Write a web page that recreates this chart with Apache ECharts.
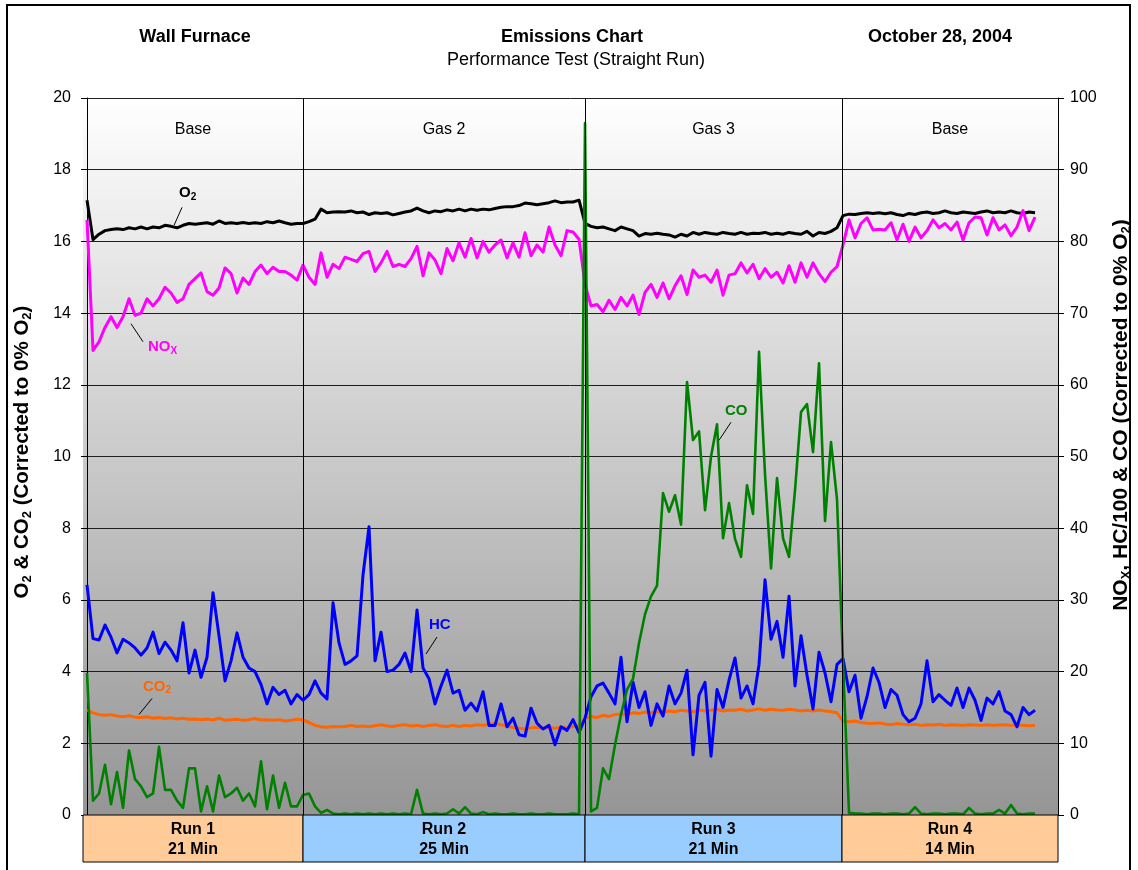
<!DOCTYPE html>
<html>
<head>
<meta charset="utf-8">
<script src="https://cdn.jsdelivr.net/npm/echarts@6/dist/echarts.min.js"></script>
<style>
  html, body { margin: 0; padding: 0; background: #ffffff; }
  #chart { width: 1138px; height: 870px; }
</style>
</head>
<body>
<div id="chart"></div>
<script>
// ---- Test runs ----
const runNames   = ['Run 1', 'Run 2', 'Run 3', 'Run 4'];
const runMinutes = [21, 25, 21, 14];
const phaseNames = ['Base', 'Gas 2', 'Gas 3', 'Base'];
// scan numbers where the axis starts, each run changes over, and the axis ends
const runBounds  = [-0.67, 36, 83, 125.83, 161.83];

// ---- Tick labels ----
const leftTicks  = [0, 2, 4, 6, 8, 10, 12, 14, 16, 18, 20];
const rightTicks = [0, 10, 20, 30, 40, 50, 60, 70, 80, 90, 100];

// ---- Readings, one per scan (left axis: O2, CO2 in %) ----
const o2 = [
  17.15, 16.05, 16.2, 16.3, 16.33, 16.35, 16.33, 16.38, 16.35, 16.4,
  16.35, 16.4, 16.38, 16.45, 16.42, 16.38, 16.45, 16.5, 16.48, 16.5,
  16.52, 16.48, 16.57, 16.5, 16.52, 16.5, 16.53, 16.5, 16.52, 16.5,
  16.55, 16.52, 16.57, 16.52, 16.48, 16.5,
  16.5, 16.55, 16.62, 16.9, 16.8, 16.82, 16.83, 16.82, 16.85, 16.8,
  16.82, 16.75, 16.8, 16.78, 16.8, 16.74, 16.78, 16.82, 16.85, 16.93,
  16.85, 16.8, 16.85, 16.83, 16.88, 16.85, 16.9, 16.85, 16.9, 16.87,
  16.9, 16.88, 16.92, 16.95, 16.97, 16.97, 17.0, 17.07, 17.05, 17.02,
  17.05, 17.08, 17.13, 17.08, 17.1, 17.1, 17.15,
  16.5, 16.42, 16.38, 16.4, 16.35, 16.3, 16.4, 16.35, 16.3, 16.15,
  16.22, 16.2, 16.23, 16.2, 16.18, 16.12, 16.2, 16.15, 16.25, 16.2,
  16.25, 16.22, 16.2, 16.25, 16.22, 16.2, 16.25, 16.2, 16.23, 16.22,
  16.25, 16.2, 16.23, 16.2, 16.25, 16.22, 16.2, 16.28, 16.15, 16.25,
  16.22, 16.28, 16.38,
  16.72, 16.76, 16.75, 16.78, 16.8, 16.78, 16.8, 16.77, 16.8, 16.75,
  16.72, 16.78, 16.75, 16.8, 16.82, 16.78, 16.8, 16.85, 16.8, 16.78,
  16.82, 16.8, 16.78, 16.82, 16.85, 16.8, 16.82, 16.8, 16.85, 16.8,
  16.78, 16.82, 16.8
];
const co2 = [
  2.93, 2.85, 2.8, 2.78, 2.8, 2.76, 2.74, 2.77, 2.73, 2.72,
  2.74, 2.7, 2.72, 2.69, 2.71, 2.68, 2.7, 2.67, 2.68, 2.66,
  2.68, 2.65, 2.7, 2.64, 2.66, 2.67, 2.64, 2.66, 2.69, 2.65,
  2.66, 2.64, 2.66, 2.62, 2.64, 2.67,
  2.65, 2.58, 2.5, 2.46, 2.45, 2.47, 2.46, 2.47, 2.5, 2.47,
  2.48, 2.46, 2.49, 2.52, 2.48, 2.47, 2.5, 2.52, 2.48, 2.5,
  2.47, 2.5, 2.52, 2.48, 2.47, 2.5, 2.47, 2.5, 2.48, 2.52,
  2.5, 2.53, 2.55, 2.52, 2.48, 2.44, 2.42, 2.4, 2.43, 2.45,
  2.42, 2.44, 2.42, 2.45, 2.43, 2.47, 2.5,
  2.7, 2.75, 2.72, 2.78, 2.75, 2.8, 2.82, 2.8, 2.85, 2.83,
  2.87, 2.85, 2.88, 2.86, 2.9, 2.88, 2.92, 2.9, 2.88, 2.93,
  2.9, 2.92, 2.95, 2.9, 2.93, 2.92, 2.95, 2.9, 2.93, 2.96,
  2.92, 2.95, 2.93, 2.92, 2.95, 2.93, 2.9, 2.92, 2.9, 2.93,
  2.9, 2.88, 2.85,
  2.62, 2.6, 2.62, 2.58, 2.56, 2.55, 2.57, 2.54, 2.52, 2.55,
  2.53, 2.52, 2.53, 2.5, 2.52, 2.51, 2.53, 2.5, 2.52, 2.51,
  2.5, 2.52, 2.51, 2.5, 2.52, 2.5, 2.51, 2.52, 2.5, 2.51,
  2.5, 2.49, 2.5
];

// ---- Readings, one per scan (right axis: NOx ppm, HC ppm / 100, CO ppm) ----
const nox = [
  83, 64.8, 66, 68, 69.5, 68, 69.5, 72, 69.7, 70,
  72, 71, 72, 73.6, 72.8, 71.5, 72, 74, 74.8, 75.6,
  73, 72.5, 73.5, 76.3, 75.5, 72.8, 74.9, 74, 75.8, 76.7,
  75.5, 76.4, 75.8, 75.8, 75.3, 74.6,
  76.7, 75, 74, 78.4, 75, 76.8, 76.2, 77.8, 77.5, 77.2,
  78.3, 78.6, 75.8, 77, 78.6, 76.5, 76.8, 76.5, 77.6, 79.3,
  75.2, 78.4, 77.4, 75.5, 79, 77.3, 79.8, 77.8, 80.4, 77.7,
  80, 78.5, 79.5, 80.2, 77.7, 79.8, 77.8, 81.2, 78, 79.5,
  78.5, 82, 79.5, 78, 81.5, 81.3, 80.3,
  74, 71, 71.2, 70.2, 71.8, 70.5, 72.2, 71, 72.5, 69.8,
  72.9, 74, 72.2, 74.2, 72, 73.8, 75.2, 72.6, 76, 75,
  75.3, 74.3, 76, 72.5, 75.3, 75.5, 77, 75.6, 76.8, 74.8,
  76.2, 75, 75.7, 74.2, 76.6, 74.3, 77, 75, 77, 75.5,
  74.4, 75.7, 76.5,
  79.5, 83, 80.5, 82.5, 83.3, 81.6, 81.7, 81.6, 82.6, 80.2,
  82.4, 80, 82, 80.5, 81.5, 83, 81.9, 82.5, 81.6, 82.7,
  80.2, 82.6, 83.4, 83.3, 80.9, 83.3, 81.6, 82.3, 80.8, 82,
  84.3, 81.5, 83.4
];
const hc = [
  32.1, 24.6, 24.4, 26.5, 24.8, 22.6, 24.5, 24, 23.3, 22.3,
  23.3, 25.5, 22.5, 24.1, 23, 21.5, 26.8, 19.8, 23, 19.2,
  22, 31, 25, 18.7, 21.5, 25.4, 22, 20.5, 20, 18.2,
  15.5, 17.8, 16.8, 17.4, 15.5, 16.8,
  16, 16.8, 18.7, 17, 16.2, 29.6, 24, 21, 21.5, 22.2,
  33.5, 40.2, 21.5, 25.5, 20, 20.2, 21, 22.6, 20, 28.6,
  20.5, 19, 15.5, 18, 20.2, 17, 17.4, 14.6, 15.6, 14.5,
  17.2, 12.5, 12.5, 15.5, 12.3, 13.5, 11.2, 11, 14.9, 12.8,
  12, 12.5, 9.8, 12.3, 11.8, 13.3, 11.5,
  13.5, 16.5, 18, 18.4, 17, 15.5, 22, 13, 18.5, 15,
  17.2, 12.5, 15.5, 13.8, 18, 15.5, 17, 20.2, 8.4, 16.7,
  18.5, 8.2, 17.5, 15, 18.8, 21.9, 16.3, 18, 15.5, 21,
  32.8, 24.5, 27, 22, 30.5, 18, 25, 19.5, 14.8, 22.7,
  19.8, 15.8, 21,
  21.8, 17.2, 19.5, 13.5, 16.5, 20.5, 18.5, 15, 17.5, 16.7,
  14, 13, 13.5, 15.5, 21.5, 15.8, 16.8, 16, 15.3, 17.7,
  15, 17.7, 16, 13.2, 16.3, 15.5, 17.2, 14.5, 14, 12.3,
  15, 14, 14.6
];
const co = [
  19.8, 2, 3, 7, 1.5, 6, 1, 9, 5, 4,
  2.5, 3, 9.5, 3.5, 3.5, 2, 1, 6.5, 6.5, 0.5,
  4, 0.5, 5.5, 2.5, 3, 3.8, 2, 3, 1.2, 7.5,
  0.8, 5.5, 1, 4.5, 1.2, 1.2,
  2.8, 3, 1.2, 0.3, 0.7, 0.2, 0.1, 0.2, 0.1, 0.2,
  0.1, 0.2, 0.1, 0.2, 0.1, 0.2, 0.1, 0.2, 0.1, 3.5,
  0.2, 0.1, 0.2, 0.1, 0.2, 0.8, 0.2, 1.1, 0.2, 0.1,
  0.4, 0.1, 0.2, 0.1, 0.1, 0.2, 0.1, 0.1, 0.2, 0.1,
  0.1, 0.2, 0.1, 0.1, 0.1, 0.2, 0.1,
  96.5, 0.5, 1, 6.5, 5, 9.8, 14, 17.5, 19, 24,
  28, 30.5, 32, 44.9, 42.3, 44.6, 40.5, 60.4, 52.3, 53.5,
  42.5, 50, 54.5, 38.6, 43.5, 38.5, 36, 46, 42, 64.6,
  47.5, 34.4, 47, 38.6, 36, 45.3, 56.2, 57.3, 50.6, 63,
  41, 52, 44,
  21.2, 0.3, 0.2, 0.2, 0.1, 0.2, 0.2, 0.1, 0.2, 0.2,
  0.1, 0.2, 1.1, 0.2, 0.1, 0.2, 0.2, 0.1, 0.2, 0.2,
  0.1, 1.0, 0.2, 0.1, 0.2, 0.2, 0.7, 0.2, 1.4, 0.2,
  0.1, 0.2, 0.2
];

const FONT = '"Liberation Sans", Arial, Helvetica, sans-serif';
const COLORS = { o2: '#000000', co2: '#ff6600', nox: '#ff00ff', hc: '#0000ff', co: '#008000' };
const RUN_FILL = ['#ffcc99', '#99ccff', '#99ccff', '#ffcc99'];

const chart = echarts.init(document.getElementById('chart'), null, { renderer: 'canvas' });

function lineSeries(name, values, color, yAxisIndex, width, extra) {
  return Object.assign({
    name: name,
    type: 'line',
    yAxisIndex: yAxisIndex,
    data: values.map((v, i) => [i, v]),
    symbol: 'none',
    showSymbol: false,
    silent: true,
    lineStyle: { color: color, width: width, join: 'round' },
    itemStyle: { color: color }
  }, extra || {});
}

const axisCommon = {
  type: 'value',
  axisLine: { show: true, lineStyle: { color: '#000', width: 1 } },
  axisTick: { show: true, inside: false, length: 6, lineStyle: { color: '#000', width: 1 } },
  axisLabel: { color: '#000', fontSize: 16, fontFamily: FONT, margin: 12 }
};

chart.setOption({
  animation: false,
  textStyle: { fontFamily: FONT },
  grid: {
    left: 83, right: 80, top: 98, bottom: 55,
    show: true, borderWidth: 0,
    backgroundColor: new echarts.graphic.LinearGradient(0, 0, 0, 1, [
      { offset: 0, color: '#ffffff' },
      { offset: 1, color: '#959595' }
    ])
  },
  xAxis: { type: 'value', min: runBounds[0], max: runBounds[runBounds.length - 1], show: false },
  yAxis: [
    Object.assign({}, axisCommon, {
      position: 'left',
      min: leftTicks[0], max: leftTicks[leftTicks.length - 1],
      interval: leftTicks[1] - leftTicks[0],
      splitLine: { show: true, lineStyle: { color: '#1e1e1e', width: 1 } }
    }),
    Object.assign({}, axisCommon, {
      position: 'right',
      min: rightTicks[0], max: rightTicks[rightTicks.length - 1],
      interval: rightTicks[1] - rightTicks[0],
      splitLine: { show: false }
    })
  ],
  series: [
    lineSeries('CO2', co2, COLORS.co2, 0, 3, {
      markLine: {
        silent: true, symbol: 'none', animation: false,
        label: { show: false },
        lineStyle: { color: '#000', width: 1, type: 'solid' },
        data: runBounds.slice(1, -1).map(v => ({ xAxis: v }))
      }
    }),
    lineSeries('O2', o2, COLORS.o2, 0, 3),
    lineSeries('NOx', nox, COLORS.nox, 1, 3),
    lineSeries('HC', hc, COLORS.hc, 1, 3),
    lineSeries('CO', co, COLORS.co, 1, 2.6)
  ]
});

// ---- Text, run boxes and callouts placed from the axes ----
const xPx = v => chart.convertToPixel({ xAxisIndex: 0 }, v);
const yPx = (axis, v) => chart.convertToPixel({ yAxisIndex: axis }, v);
const plotTop = yPx(0, leftTicks[leftTicks.length - 1]);
const plotBottom = yPx(0, leftTicks[0]);
const boxBottom = plotBottom + 47;

function richStyle(size, subSize, color) {
  return {
    m: { fontSize: size, fontWeight: 'bold', fontFamily: FONT, fill: color, lineHeight: size + 3 },
    s: { fontSize: subSize, fontWeight: 'bold', fontFamily: FONT, fill: color,
         lineHeight: subSize, padding: [size + 3 - subSize, 0, 0, 0] }
  };
}

const graphics = [];

// outer frame
graphics.push({ type: 'rect', shape: { x: 7, y: 5, width: 1123, height: 900 },
  style: { fill: 'none', stroke: '#000', lineWidth: 2 }, silent: true });

// headings
function heading(text, x, y, weight) {
  graphics.push({ type: 'text', x: x, y: y, silent: true,
    style: { text: text, fill: '#000', font: weight + ' 18px ' + FONT, align: 'center', verticalAlign: 'middle' } });
}
heading('Wall Furnace', 195, 37, 'bold');
heading('Emissions Chart', 572, 37, 'bold');
heading('Performance Test (Straight Run)', 576, 60, 'normal');
heading('October 28, 2004', 940, 37, 'bold');

// phase labels and run boxes
for (let k = 0; k < runNames.length; k++) {
  const x0 = xPx(runBounds[k]);
  const x1 = xPx(runBounds[k + 1]);
  const cx = (x0 + x1) / 2;
  graphics.push({ type: 'text', x: cx, y: plotTop + 32, silent: true,
    style: { text: phaseNames[k], fill: '#000', font: 'normal 16px ' + FONT, align: 'center', verticalAlign: 'middle' } });
  graphics.push({ type: 'rect', silent: true, z: 10,
    shape: { x: x0, y: plotBottom, width: x1 - x0, height: boxBottom - plotBottom },
    style: { fill: RUN_FILL[k], stroke: '#000', lineWidth: 1 } });
  graphics.push({ type: 'text', x: cx, y: (plotBottom + boxBottom) / 2 + 1, silent: true, z: 11,
    style: { text: runNames[k] + '\n' + runMinutes[k] + ' Min', fill: '#000', font: 'bold 16px ' + FONT,
             lineHeight: 20, align: 'center', verticalAlign: 'middle' } });
}

// axis titles
graphics.push({ type: 'text', x: 22, y: 452, rotation: Math.PI / 2, silent: true,
  style: { text: '{m|O}{s|2}{m| & CO}{s|2}{m| (Corrected to 0% O}{s|2}{m|)}',
           rich: richStyle(20.5, 13, '#000'), align: 'center', verticalAlign: 'middle' } });
graphics.push({ type: 'text', x: 1121, y: 415, rotation: Math.PI / 2, silent: true,
  style: { text: '{m|NO}{s|X}{m|, HC/100 & CO (Corrected to 0% O}{s|2}{m|)}',
           rich: richStyle(21, 13, '#000'), align: 'center', verticalAlign: 'middle' } });

// series callouts: anchored to a reading, with a short leader line
const callouts = [
  { text: '{m|O}{s|2}',  values: o2,  axis: 0, scan: 14,  color: COLORS.o2,  lead: [3, -1, 11, -19], at: [8, -33] },
  { text: '{m|NO}{s|X}', values: nox, axis: 1, scan: 7,   color: COLORS.nox, lead: [2, 25, 14, 43],   at: [19, 48] },
  { text: '{m|CO}{s|2}', values: co2, axis: 0, scan: 9,   color: COLORS.co2, lead: [-2, -3, 11, -19], at: [2, -31] },
  { text: '{m|HC}',      values: hc,  axis: 1, scan: 56,  color: COLORS.hc,  lead: [3, -14, 14, -31], at: [6, -43] },
  { text: '{m|CO}',      values: co,  axis: 1, scan: 105, color: COLORS.co,  lead: [2, 16, 14, -2],   at: [8, -13] }
];
callouts.forEach(c => {
  const ax = xPx(c.scan);
  const ay = yPx(c.axis, c.values[c.scan]);
  graphics.push({ type: 'line', silent: true, z: 20,
    shape: { x1: ax + c.lead[0], y1: ay + c.lead[1], x2: ax + c.lead[2], y2: ay + c.lead[3] },
    style: { stroke: '#000', lineWidth: 1 } });
  graphics.push({ type: 'text', x: ax + c.at[0], y: ay + c.at[1], silent: true, z: 20,
    style: { text: c.text, rich: richStyle(15, 10, c.color), align: 'left', verticalAlign: 'middle' } });
});

chart.setOption({ graphic: graphics });
</script>
</body>
</html>
